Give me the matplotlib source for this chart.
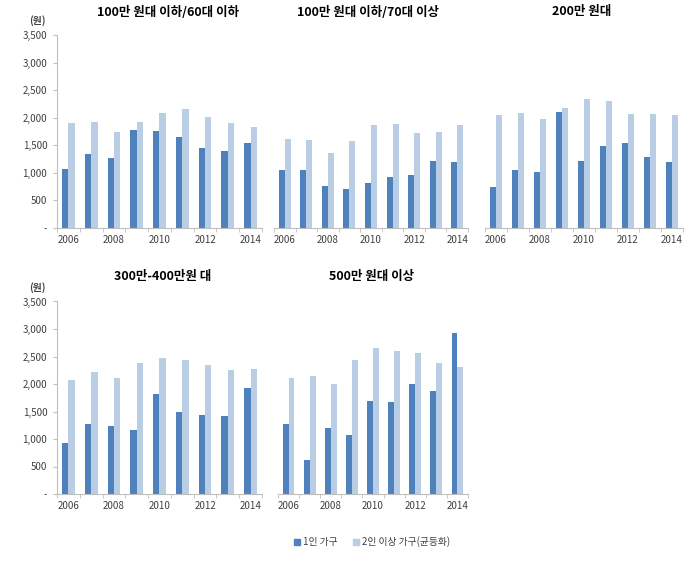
import matplotlib.pyplot as plt
import numpy as np
from matplotlib.patches import Patch

plt.rcParams['font.family'] = ['Noto Sans CJK KR', 'DejaVu Sans']

years = [2006, 2007, 2008, 2009, 2010, 2011, 2012, 2013, 2014]
titles = ['100만 원대 이하/60대 이하', '100만 원대 이하/70대 이상', '200만 원대',
          '300만-400만원 대', '500만 원대 이상']

# 1인 가구 / 2인 이상 가구(균등화), per panel
one_p1 = [1070, 1335, 1270, 1780, 1760, 1655, 1450, 1395, 1545]
two_p1 = [1900, 1925, 1735, 1925, 2080, 2160, 2015, 1905, 1835]
one_p2 = [1045, 1045, 765, 710, 810, 925, 955, 1215, 1195]
two_p2 = [1610, 1595, 1360, 1575, 1875, 1880, 1720, 1740, 1865]
one_p3 = [740, 1050, 1010, 2105, 1215, 1480, 1540, 1280, 1190]
two_p3 = [2045, 2080, 1985, 2170, 2340, 2310, 2060, 2075, 2045]
one_p4 = [920, 1280, 1240, 1165, 1815, 1490, 1430, 1425, 1935]
two_p4 = [2065, 2210, 2105, 2380, 2475, 2440, 2345, 2260, 2275]
one_p5 = [1280, 620, 1205, 1065, 1695, 1670, 1995, 1875, 2930]
two_p5 = [2105, 2150, 2000, 2430, 2660, 2600, 2560, 2380, 2315]

ones = [one_p1, one_p2, one_p3, one_p4, one_p5]
twos = [two_p1, two_p2, two_p3, two_p4, two_p5]

dark = '#4F81BD'
light = '#B9CDE5'
gray = '#BFBFBF'

W, H = 698, 567
fig = plt.figure(figsize=(W / 100, H / 100), dpi=100)

# axes boxes in pixels: left, right, top, bottom
boxes = [(57, 262, 35, 228), (274, 468, 35, 228), (485, 683, 35, 228),
         (57, 262, 301.5, 494), (278, 468, 301.5, 494)]
title_pos = [(168, 12), (368, 12), (582, 12), (163, 277), (372, 277)]

x = np.arange(len(years))
bw = 0.28
for i in range(5):
    l, r, t, b = boxes[i]
    ax = fig.add_axes([l / W, 1 - b / H, (r - l) / W, (b - t) / H])
    ax.bar(x - bw / 2, ones[i], bw, color=dark)
    ax.bar(x + bw / 2, twos[i], bw, color=light)
    ax.set_xlim(-0.5, len(years) - 0.5)
    ax.set_ylim(0, 3500)
    for s in ['top', 'right']:
        ax.spines[s].set_visible(False)
    ax.spines['bottom'].set_color(gray)
    ax.set_xticks(x[::2])
    ax.set_xticklabels([str(y) for y in years[::2]], fontsize=7, color='#404040')
    ax.set_xticks(np.arange(len(years) + 1) - 0.5, minor=True)
    ax.tick_params(axis='x', which='major', length=0, pad=5)
    ax.tick_params(axis='x', which='minor', length=3, color=gray)
    if i in (0, 3):
        ax.spines['left'].set_color(gray)
        ax.set_yticks(np.arange(0, 3501, 500))
        ax.set_yticklabels(['-'] + [f'{v:,}' for v in range(500, 3501, 500)],
                           fontsize=7, color='#404040')
        ax.tick_params(axis='y', length=3, color=gray, pad=4)
        fig.text(37 / W, 1 - (t - 14) / H, '(원)', fontsize=7, ha='center', va='center',
                 fontweight='bold', color='#404040')
    else:
        ax.spines['left'].set_visible(False)
        ax.set_yticks([])
    tx, ty = title_pos[i]
    fig.text(tx / W, 1 - ty / H, titles[i], fontsize=9, fontweight='bold',
             ha='center', va='center')

handles = [Patch(color=dark), Patch(color=light)]
fig.legend(handles, ['1인 가구', '2인 이상 가구(균등화)'], loc='center',
           bbox_to_anchor=(372 / W, 1 - 542 / H), ncol=2, frameon=False,
           fontsize=7, handlelength=0.6, handleheight=0.6, handletextpad=0.3,
           columnspacing=1.6, labelcolor='#404040')

fig.savefig('out.png', dpi=100)
